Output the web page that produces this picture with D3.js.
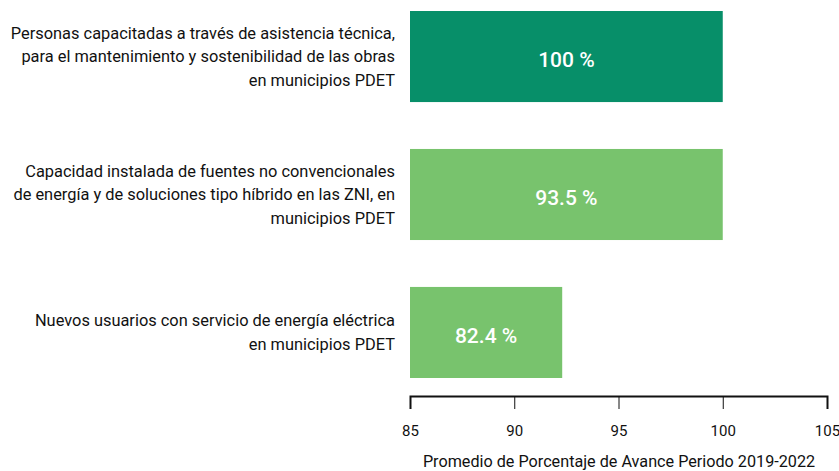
<!DOCTYPE html>
<html>
<head>
<meta charset="utf-8">
<script src="https://cdn.jsdelivr.net/npm/d3@7"></script>
<style>
  body { margin: 0; background: #fff; }
  svg { display: block; font-family: Roboto, "Noto Sans", sans-serif; }
</style>
</head>
<body>
<div id="d3"></div>
<script>
// data
const categories = [
  ["Personas capacitadas a través de asistencia técnica,", "para el mantenimiento y sostenibilidad de las obras", "en municipios PDET"],
  ["Capacidad instalada de fuentes no convencionales", "de energía y de soluciones tipo híbrido en las ZNI, en", "municipios PDET"],
  ["Nuevos usuarios con servicio de energía eléctrica", "en municipios PDET"]
];
const barValues = [100, 100, 92.3];
const valueLabels = ["100 %", "93.5 %", "82.4 %"];
const barColors = ["#078f69", "#78c36d", "#78c36d"];
const xTicks = [85, 90, 95, 100, 105];
const xTitle = "Promedio de Porcentaje de Avance Periodo 2019-2022";

const width = 839;
const height = 471;

const svg = d3.select("#d3")
  .append("svg")
  .attr("width", width)
  .attr("height", height);

const x = d3.scaleLinear().domain([85, 105]).range([410, 827]);
const y = d3.scaleBand()
  .domain(d3.range(categories.length))
  .range([11, 378])
  .paddingInner(0.34)
  .paddingOuter(0);

// bars
svg.append("g")
  .selectAll("rect")
  .data(barValues)
  .join("rect")
  .attr("x", x(85))
  .attr("y", (d, i) => y(i))
  .attr("width", (d) => x(d) - x(85))
  .attr("height", y.bandwidth())
  .attr("fill", (d, i) => barColors[i]);

// value labels
svg.append("g")
  .selectAll("text")
  .data(barValues)
  .join("text")
  .attr("x", (d) => (x(85) + x(d)) / 2)
  .attr("y", (d, i) => y(i) + y.bandwidth() / 2 + 3.5)
  .attr("dy", "0.35em")
  .attr("text-anchor", "middle")
  .attr("fill", "#fff")
  .style("font-size", "21px")
  .style("font-weight", 500)
  .text((d, i) => valueLabels[i]);

// category labels
const lineH = 23.5;
const cat = svg.append("g")
  .selectAll("text")
  .data(categories)
  .join("text")
  .attr("text-anchor", "end")
  .attr("fill", "#111")
  .style("font-size", "16.4px");

cat.each(function (lines, i) {
  const mid = y(i) + y.bandwidth() / 2;
  const top = mid - ((lines.length - 1) * lineH) / 2;
  d3.select(this)
    .selectAll("tspan")
    .data(lines)
    .join("tspan")
    .attr("x", 395)
    .attr("y", (d, j) => top + j * lineH)
    .attr("dy", "0.35em")
    .text((d) => d);
});

// x axis
const axis = svg.append("g")
  .attr("transform", "translate(0, 396)")
  .call(d3.axisBottom(x).tickValues(xTicks).tickSize(13).tickPadding(16));

axis.select(".domain").attr("stroke", "#111").attr("stroke-width", 2);
axis.selectAll(".tick line").attr("stroke", "#111").attr("stroke-width", 1);
axis.selectAll(".tick text")
  .attr("fill", "#111")
  .style("font-size", "15px")
  .style("font-family", "Roboto, sans-serif");

svg.append("text")
  .attr("x", 619)
  .attr("y", 461)
  .attr("dy", "0.35em")
  .attr("text-anchor", "middle")
  .attr("fill", "#111")
  .style("font-size", "16.2px")
  .text(xTitle);
</script>
</body>
</html>
